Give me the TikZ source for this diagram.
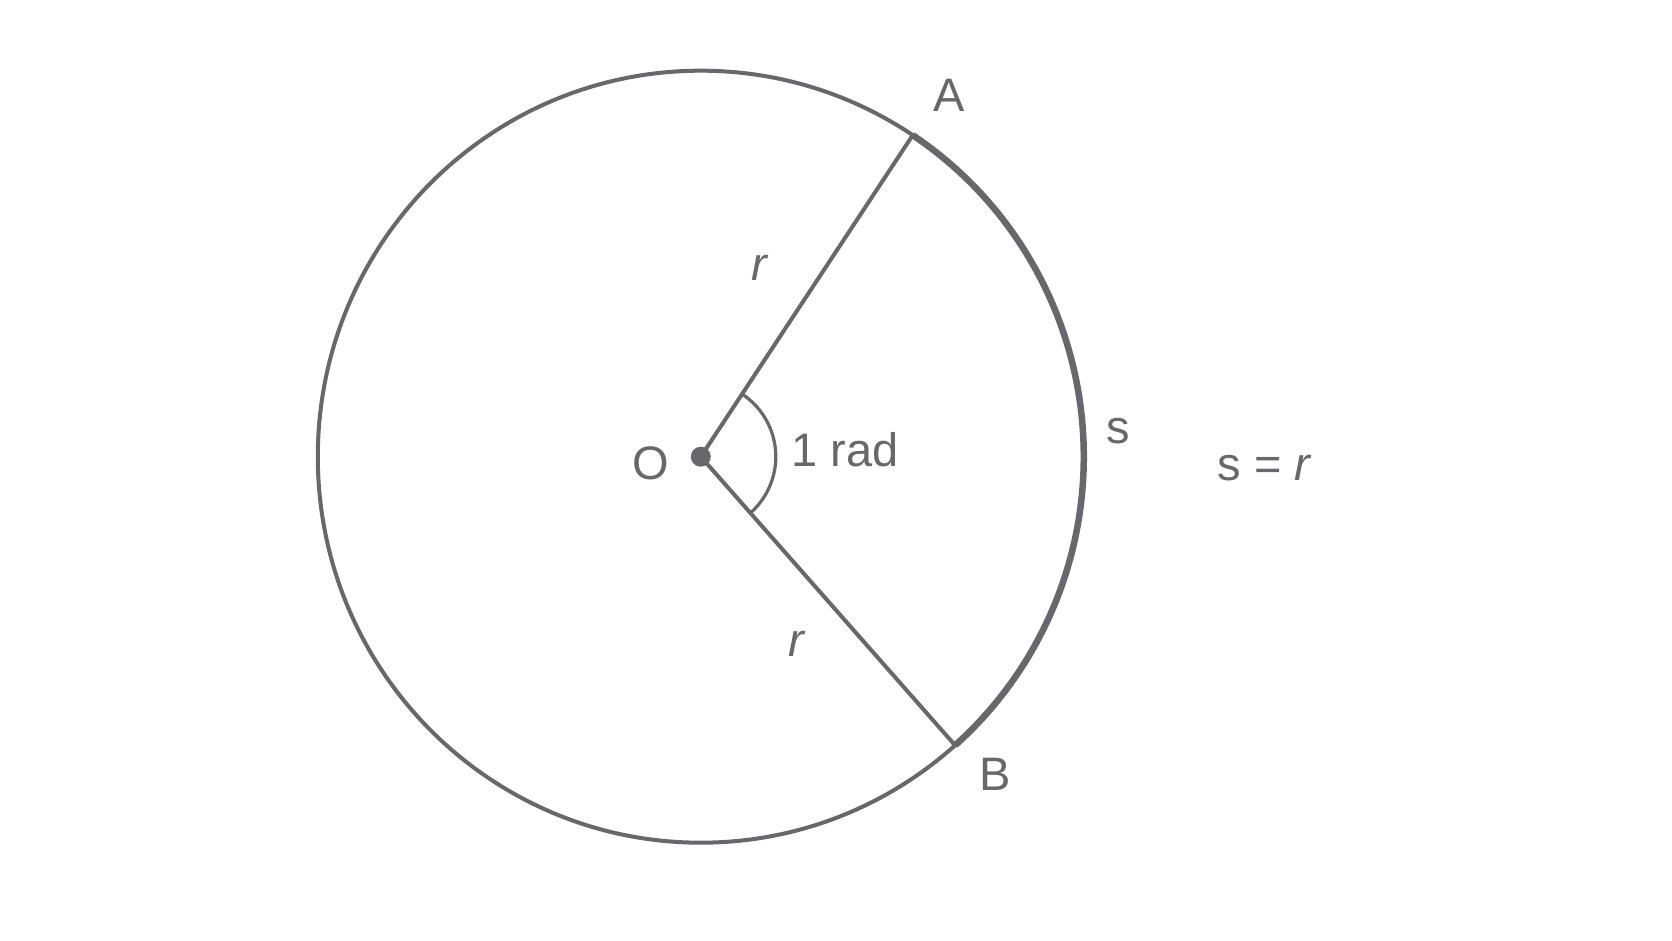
\documentclass[tikz,border=0pt]{standalone}
\usepackage{fontspec}
\setmainfont{Liberation Sans}
\usetikzlibrary{calc}
\definecolor{ink}{RGB}{104,104,108}
\begin{document}
\begin{tikzpicture}[x=1pt,y=1pt,
  lbl/.style={inner sep=0pt, text=ink, font=\fontsize{47}{56}\selectfont},
  thinline/.style={draw=ink, line width=4pt},
  thickline/.style={draw=ink, line width=6.5pt}]
\useasboundingbox[fill=white] (0,0) rectangle (1672,941);
\coordinate (O) at (700.8,484.3);
\coordinate (A) at ($(O)+({383*cos(56.4)},{386*sin(56.4)})$);
\coordinate (B) at ($(O)+({383*cos(-48.4)},{386*sin(-48.4)})$);
\coordinate (a1) at ($(O)+(56.4:75)$);
% circle
\draw[thinline] (O) ellipse[x radius=383, y radius=386];
% arc s
\draw[thickline] (A) arc[start angle=56.4, end angle=-48.4, x radius=383, y radius=386];
% radii
\draw[thinline] (O) -- (A);
\draw[thinline] (O) -- (B);
% angle arc
\draw[draw=ink, line width=3.2pt] (a1) arc[start angle=56.4, end angle=-48.4, radius=75];
% center dot
\fill[ink] (O) circle[radius=10];
% labels
\node[lbl] (lA) at (949.5,846) {A};
\node[lbl] (lB) at (995,167) {B};
\node[lbl] (lO) at (650.4,478) {O};
\node[lbl] (lr1) at (759,673) {\itshape r};
\node[lbl] (lr2) at (796,297.5) {\itshape r};
\node[lbl] (lrad) at (845,491) {1 rad};
\node[lbl] (ls) at (1118.5,509.5) {s};
\node[lbl] (lsr) at (1264,473) {s = \itshape r};
\end{tikzpicture}
\end{document}
